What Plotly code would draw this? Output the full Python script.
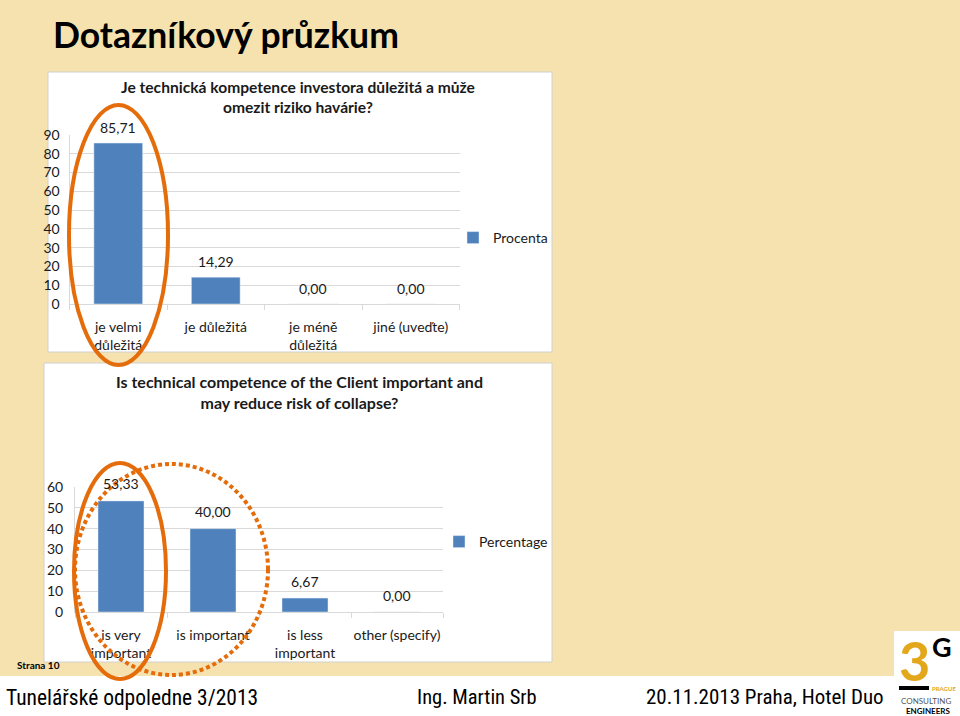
import plotly.graph_objects as go

# ---------------- data ----------------
cats_cz = ["je velmi<br>důležitá", "je důležitá", "je méně<br>důležitá", "jiné (uveďte)"]
vals_cz = [85.71, 14.29, 0.00, 0.00]
yticks_cz = [0, 10, 20, 30, 40, 50, 60, 70, 80, 90]

cats_en = ["is very<br>important", "is important", "is less<br>important", "other (specify)"]
vals_en = [53.33, 40.00, 6.67, 0.00]
yticks_en = [0, 10, 20, 30, 40, 50, 60]

title_main = "Dotazníkový průzkum"
title_cz = "Je technická kompetence investora důležitá a může<br>omezit riziko havárie?"
title_en = "Is technical competence of the Client important and<br>may reduce risk of collapse?"
legend_cz = "Procenta"
legend_en = "Percentage"
footer_left = "Tunelářské odpoledne 3/2013"
footer_mid = "Ing. Martin Srb"
footer_right = "20.11.2013 Praha, Hotel Duo"
page_label = "Strana 10"

# ---------------- style ----------------
W, H = 960, 716
BEIGE = "#F5E2AE"
BLUE = "#4F81BD"
ORANGE = "#E46C0A"
GRID = "#D9D9D9"
FONT = "Lato, 'Open Sans', sans-serif"
NARROW = "'Liberation Sans Narrow', 'Arial Narrow', 'Roboto Condensed', sans-serif"
TXT = "#1a1a1a"


def X(px):
    return px / W


def Y(px):
    return 1 - px / H


def fmt(v):
    return f"{v:.2f}".replace(".", ",")


fig = go.Figure()
fig.add_trace(go.Bar(x=cats_cz, y=vals_cz, name=legend_cz, marker_color=BLUE,
                     xaxis="x", yaxis="y", legend="legend", hoverinfo="skip"))
fig.add_trace(go.Bar(x=cats_en, y=vals_en, name=legend_en, marker_color=BLUE,
                     xaxis="x2", yaxis="y2", legend="legend2", hoverinfo="skip"))

annotations = []
for c, v in zip(cats_cz, vals_cz):
    annotations.append(dict(x=c, y=v, xref="x", yref="y", text=fmt(v), showarrow=False,
                            yshift=16, font=dict(family=FONT, size=14, color=TXT)))
for c, v in zip(cats_en, vals_en):
    annotations.append(dict(x=c, y=v, xref="x2", yref="y2", text=fmt(v), showarrow=False,
                            yshift=17, font=dict(family=FONT, size=14, color=TXT)))

# titles
annotations.append(dict(x=X(51), y=Y(35), xref="paper", yref="paper", xanchor="left",
                        yanchor="middle", text=f"<b>{title_main}</b>", showarrow=False,
                        font=dict(family=FONT, size=35.5, color="#000")))
annotations.append(dict(x=X(298), y=Y(97), xref="paper", yref="paper", xanchor="center",
                        yanchor="middle", text=f"<b>{title_cz}</b>", showarrow=False,
                        font=dict(family=FONT, size=15.6, color=TXT)))
annotations.append(dict(x=X(299), y=Y(392), xref="paper", yref="paper", xanchor="center",
                        yanchor="middle", text=f"<b>{title_en}</b>", showarrow=False,
                        font=dict(family=FONT, size=16, color=TXT)))
# footer
annotations.append(dict(x=X(15), y=Y(665), xref="paper", yref="paper", xanchor="left",
                        yanchor="middle", text=f"<b>{page_label}</b>", showarrow=False,
                        font=dict(family=FONT, size=10, color="#000")))
annotations.append(dict(x=X(4), y=Y(697), xref="paper", yref="paper", xanchor="left",
                        yanchor="middle", text=footer_left, showarrow=False,
                        font=dict(family=NARROW, size=21.5, color="#000")))
annotations.append(dict(x=X(415), y=Y(697), xref="paper", yref="paper", xanchor="left",
                        yanchor="middle", text=footer_mid, showarrow=False,
                        font=dict(family=NARROW, size=20.5, color="#000")))
annotations.append(dict(x=X(886), y=Y(697), xref="paper", yref="paper", xanchor="right",
                        yanchor="middle", text=footer_right, showarrow=False,
                        font=dict(family=NARROW, size=21, color="#000")))
# logo texts
annotations.append(dict(x=X(914), y=Y(695), xref="paper", yref="paper", xanchor="center",
                        yanchor="bottom", text="<b>3</b>", showarrow=False,
                        font=dict(family=FONT, size=54, color="#E2A71A")))
annotations.append(dict(x=X(942), y=Y(646), xref="paper", yref="paper", xanchor="center",
                        yanchor="middle", text="<b>G</b>", showarrow=False,
                        font=dict(family=FONT, size=27, color="#000")))
annotations.append(dict(x=X(944), y=Y(688), xref="paper", yref="paper", xanchor="center",
                        yanchor="middle", text="<b>PRAGUE</b>", showarrow=False,
                        font=dict(family=FONT, size=6, color="#E2A71A")))
annotations.append(dict(x=X(926), y=Y(701), xref="paper", yref="paper", xanchor="center",
                        yanchor="middle", text="CONSULTING", showarrow=False,
                        font=dict(family=FONT, size=8, color="#555")))
annotations.append(dict(x=X(928), y=Y(711), xref="paper", yref="paper", xanchor="center",
                        yanchor="middle", text="<b>ENGINEERS</b>", showarrow=False,
                        font=dict(family=FONT, size=8, color="#000")))

shapes = [
    # beige slide body
    dict(type="rect", xref="paper", yref="paper", x0=0, x1=1, y0=Y(676), y1=1,
         fillcolor=BEIGE, line=dict(width=0), layer="below"),
    # chart boxes
    dict(type="rect", xref="paper", yref="paper", x0=X(48), x1=X(552), y0=Y(352), y1=Y(72),
         fillcolor="white", line=dict(color="#D0D0D0", width=1), layer="below"),
    dict(type="rect", xref="paper", yref="paper", x0=X(44), x1=X(552), y0=Y(662), y1=Y(363),
         fillcolor="white", line=dict(color="#D0D0D0", width=1), layer="below"),
    # logo box
    dict(type="rect", xref="paper", yref="paper", x0=X(894), x1=1, y0=0, y1=Y(631),
         fillcolor="white", line=dict(width=0), layer="below"),
    dict(type="rect", xref="paper", yref="paper", x0=X(899), x1=X(929), y0=Y(690), y1=Y(686),
         fillcolor="#000", line=dict(width=0)),
    # orange highlight ellipses
    dict(type="circle", xref="paper", yref="paper", x0=X(69), x1=X(168), y0=Y(365), y1=Y(105),
         line=dict(color=ORANGE, width=4)),
    dict(type="circle", xref="paper", yref="paper", x0=X(74), x1=X(166), y0=Y(679), y1=Y(463),
         line=dict(color=ORANGE, width=4)),
    dict(type="circle", xref="paper", yref="paper", x0=X(75), x1=X(268), y0=Y(675), y1=Y(464),
         line=dict(color=ORANGE, width=4, dash="4px,3px")),
]

axis_common = dict(showline=True, linecolor=GRID, linewidth=1,
                   tickfont=dict(family=FONT, size=14, color=TXT), fixedrange=True)

fig.update_layout(
    width=W, height=H,
    margin=dict(l=0, r=0, t=0, b=0, autoexpand=False),
    paper_bgcolor="white", plot_bgcolor="rgba(0,0,0,0)",
    separators=",.",
    bargap=0.5,
    showlegend=True,
    xaxis=dict(domain=[X(69.5), X(459.5)], anchor="y", type="category", showgrid=False,
               ticks="outside", ticklen=5, tickcolor=GRID, tickson="boundaries",
               tickangle=0, ticklabelstandoff=10, **axis_common),
    yaxis=dict(domain=[Y(304), Y(135)], anchor="x", range=[0, 90], tickvals=yticks_cz,
               showgrid=True, gridcolor=GRID, zeroline=False, ticks="",
               ticklabelstandoff=6, **axis_common),
    xaxis2=dict(domain=[X(75), X(443)], anchor="y2", type="category", showgrid=False,
                ticks="outside", ticklen=5, tickcolor=GRID, tickson="boundaries",
                tickangle=0, ticklabelstandoff=10, **axis_common),
    yaxis2=dict(domain=[Y(612), Y(487)], anchor="x2", range=[0, 60], tickvals=yticks_en,
                showgrid=True, gridcolor=GRID, zeroline=False, ticks="",
                ticklabelstandoff=8, **axis_common),
    legend=dict(x=X(453), y=Y(238), xanchor="left", yanchor="middle",
                bgcolor="rgba(0,0,0,0)", font=dict(family=FONT, size=14, color=TXT)),
    legend2=dict(x=X(439), y=Y(542), xanchor="left", yanchor="middle",
                 bgcolor="rgba(0,0,0,0)", font=dict(family=FONT, size=14, color=TXT)),
    annotations=annotations,
    shapes=shapes,
)

fig.write_html(
    "out.html",
    config={"displayModeBar": False},
    post_script="document.body.style.margin='0';document.body.style.overflow='hidden';",
)
